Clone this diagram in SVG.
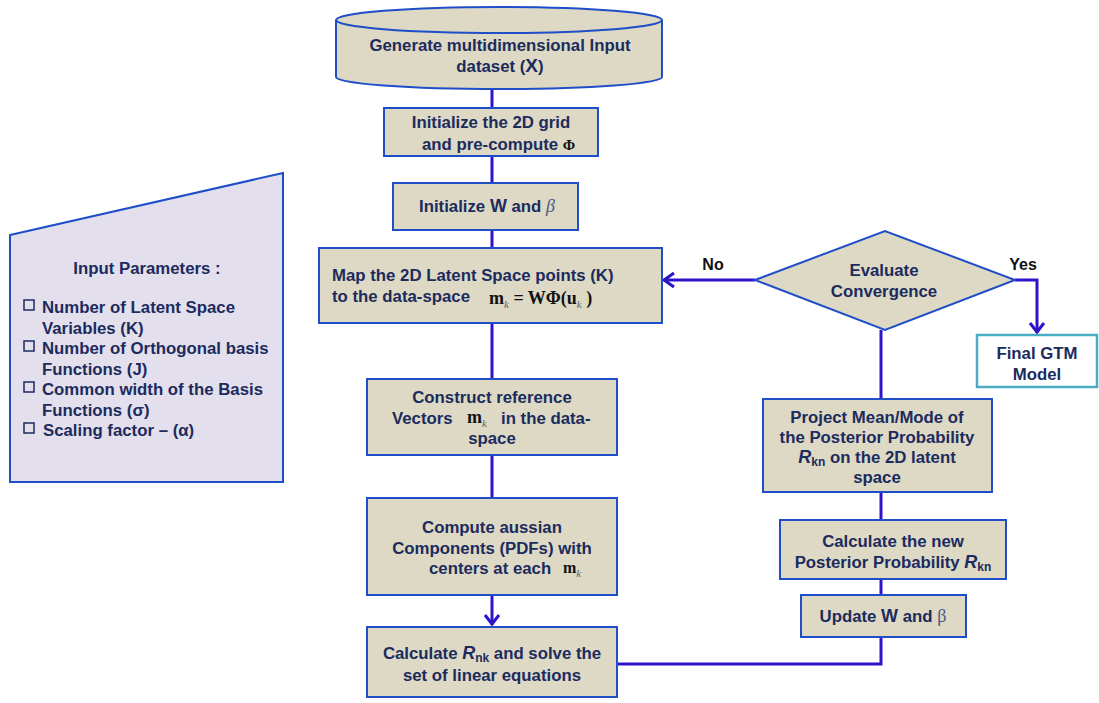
<svg xmlns="http://www.w3.org/2000/svg" width="1099" height="703" viewBox="0 0 1099 703">
  <style>
    .box { fill: #ddd9c4; stroke: #1f4ec8; stroke-width: 2; }
    .t { font-family: "Liberation Sans", Arial, sans-serif; font-weight: bold; font-size: 16.8px; fill: #1c2b5e; }
    .c { text-anchor: middle; }
    .m { font-family: "Liberation Serif", "Times New Roman", serif; font-weight: bold; fill: #111; }
    .sub { font-size: 11px; }
    .lbl { font-family: "Liberation Sans", Arial, sans-serif; font-weight: bold; font-size: 16px; fill: #111; }
    .wire { fill: none; stroke: #2d14cc; stroke-width: 3; }
  </style>

  <rect width="1099" height="703" fill="#ffffff"/>

  <!-- connectors -->
  <g id="connectors">
    <path class="wire" d="M492,89 V108"/>
    <path class="wire" d="M492,156 V183"/>
    <path class="wire" d="M492,230 V248"/>
    <path class="wire" d="M492,323 V379"/>
    <path class="wire" d="M492,455 V498"/>
    <path class="wire" d="M492,595 V625"/>
    <path class="wire" d="M485,615 L492,624 L499,615"/>
    <path class="wire" d="M755,280 H664"/>
    <path class="wire" d="M674,273 L664,280 L674,287"/>
    <path class="wire" d="M1015,280 H1037 V333"/>
    <path class="wire" d="M1030,323 L1037,332 L1044,323"/>
    <path class="wire" d="M881,330 V399"/>
    <path class="wire" d="M881,492 V520"/>
    <path class="wire" d="M881,579 V595"/>
    <path class="wire" d="M881,637 V664 H617"/>
  </g>

  <!-- labels on the branches -->
  <text class="lbl" x="713" y="270" text-anchor="middle">No</text>
  <text class="lbl" x="1023" y="270" text-anchor="middle">Yes</text>

  <!-- input dataset (cylinder) -->
  <g id="n-dataset">
    <path class="box" d="M336,20 V77 A163,12 0 0 0 662,77 V20"/>
    <ellipse class="box" cx="499" cy="20" rx="163" ry="13"/>
    <text class="t c" x="500" y="51">Generate multidimensional Input</text>
    <text class="t c" x="500" y="72">dataset (<tspan font-size="19">X</tspan>)</text>
  </g>

  <g id="n-grid">
    <rect class="box" x="384" y="108" width="214" height="48"/>
    <text class="t c" x="491" y="128">Initialize the 2D grid</text>
    <text class="t" x="422" y="150">and pre-compute <tspan class="m" font-weight="normal" font-size="15">Φ</tspan></text>
  </g>

  <g id="n-initw">
    <rect class="box" x="393" y="183" width="185" height="47"/>
    <text class="t" x="419" y="212">Initialize <tspan font-size="18">W</tspan> and <tspan font-family="Liberation Serif, serif" font-style="italic" font-weight="normal" fill="#4a5a86" font-size="18">β</tspan></text>
  </g>

  <g id="n-map">
    <rect class="box" x="319" y="248" width="343" height="75"/>
    <text class="t" x="332" y="281">Map the 2D Latent Space points (K)</text>
    <text class="t" x="332" y="302">to the data-space</text>
    <text class="m" x="489" y="304" font-size="18">m<tspan class="sub" dy="4" font-weight="normal" font-style="italic" fill="#666">k</tspan><tspan dy="-4"> = WΦ(u</tspan><tspan class="sub" dy="4" font-weight="normal" font-style="italic" fill="#666">k</tspan><tspan dy="-4"> )</tspan></text>
  </g>

  <g id="n-construct">
    <rect class="box" x="367" y="379" width="250" height="76"/>
    <text class="t c" x="492" y="403">Construct reference</text>
    <text class="t" x="392" y="424">Vectors</text>
    <text class="m" x="467" y="423" font-size="18">m<tspan class="sub" dy="4" font-weight="normal" font-style="italic" fill="#666">k</tspan></text>
    <text class="t" x="501" y="424">in the data-</text>
    <text class="t c" x="492" y="444">space</text>
  </g>

  <g id="n-compute">
    <rect class="box" x="367" y="498" width="250" height="97"/>
    <text class="t c" x="492" y="533">Compute aussian</text>
    <text class="t c" x="492" y="554">Components (PDFs) with</text>
    <text class="t" x="429" y="574">centers at each</text>
    <text class="m" x="563" y="573" font-size="16">m<tspan class="sub" dy="4" font-weight="normal" font-style="italic" fill="#666">k</tspan></text>
  </g>

  <g id="n-calc">
    <rect class="box" x="367" y="627" width="250" height="70"/>
    <text class="t c" x="492" y="659">Calculate <tspan font-style="italic" font-size="18">R</tspan><tspan font-size="12" dy="3">nk</tspan><tspan dy="-3"> and solve the</tspan></text>
    <text class="t c" x="492" y="681">set of linear equations</text>
  </g>

  <g id="n-converge">
    <polygon class="box" points="755,280 885,231 1015,280 885,330"/>
    <text class="t c" x="884" y="276">Evaluate</text>
    <text class="t c" x="884" y="297">Convergence</text>
  </g>

  <g id="n-final">
    <rect x="977" y="335" width="120" height="52" fill="#ffffff" stroke="#4bacc6" stroke-width="2.5"/>
    <text class="t c" x="1037" y="359">Final GTM</text>
    <text class="t c" x="1037" y="380">Model</text>
  </g>

  <g id="n-project">
    <rect class="box" x="763" y="399" width="229" height="93"/>
    <text class="t c" x="877" y="423">Project Mean/Mode  of</text>
    <text class="t c" x="877" y="443">the Posterior Probability</text>
    <text class="t c" x="877" y="463"><tspan font-style="italic" font-size="18">R</tspan><tspan font-size="12" dy="3">kn</tspan><tspan dy="-3">  on the 2D latent</tspan></text>
    <text class="t c" x="877" y="483">space</text>
  </g>

  <g id="n-posterior">
    <rect class="box" x="780" y="520" width="226" height="59"/>
    <text class="t c" x="893" y="547">Calculate the new</text>
    <text class="t c" x="893" y="568">Posterior Probability <tspan font-style="italic" font-size="18">R</tspan><tspan font-size="12" dy="3">kn</tspan></text>
  </g>

  <g id="n-update">
    <rect class="box" x="801" y="595" width="165" height="42"/>
    <text class="t c" x="883" y="622">Update <tspan font-size="18">W</tspan> and <tspan font-family="Liberation Serif, serif" font-weight="normal" fill="#4a5a86" font-size="18">β</tspan></text>
  </g>

  <!-- input parameters panel -->
  <g id="n-params">
    <polygon points="10,235 283,173 283,482 10,482" fill="#e4dfec" stroke="#1f4ec8" stroke-width="2"/>
    <text class="t c" x="147" y="274">Input Parameters :</text>
    <g fill="none" stroke="#1c2b5e" stroke-width="1.5">
      <rect x="24" y="300" width="10" height="10"/>
      <rect x="24" y="341" width="10" height="10"/>
      <rect x="24" y="382" width="10" height="10"/>
      <rect x="24" y="423" width="10" height="10"/>
    </g>
    <text class="t" x="42" y="313">Number of Latent Space</text>
    <text class="t" x="42" y="334">Variables (K)</text>
    <text class="t" x="42" y="354">Number of Orthogonal basis</text>
    <text class="t" x="42" y="375">Functions (J)</text>
    <text class="t" x="42" y="395">Common  width of the Basis</text>
    <text class="t" x="42" y="416">Functions (σ)</text>
    <text class="t" x="43" y="436">Scaling factor – (α)</text>
  </g>
</svg>
